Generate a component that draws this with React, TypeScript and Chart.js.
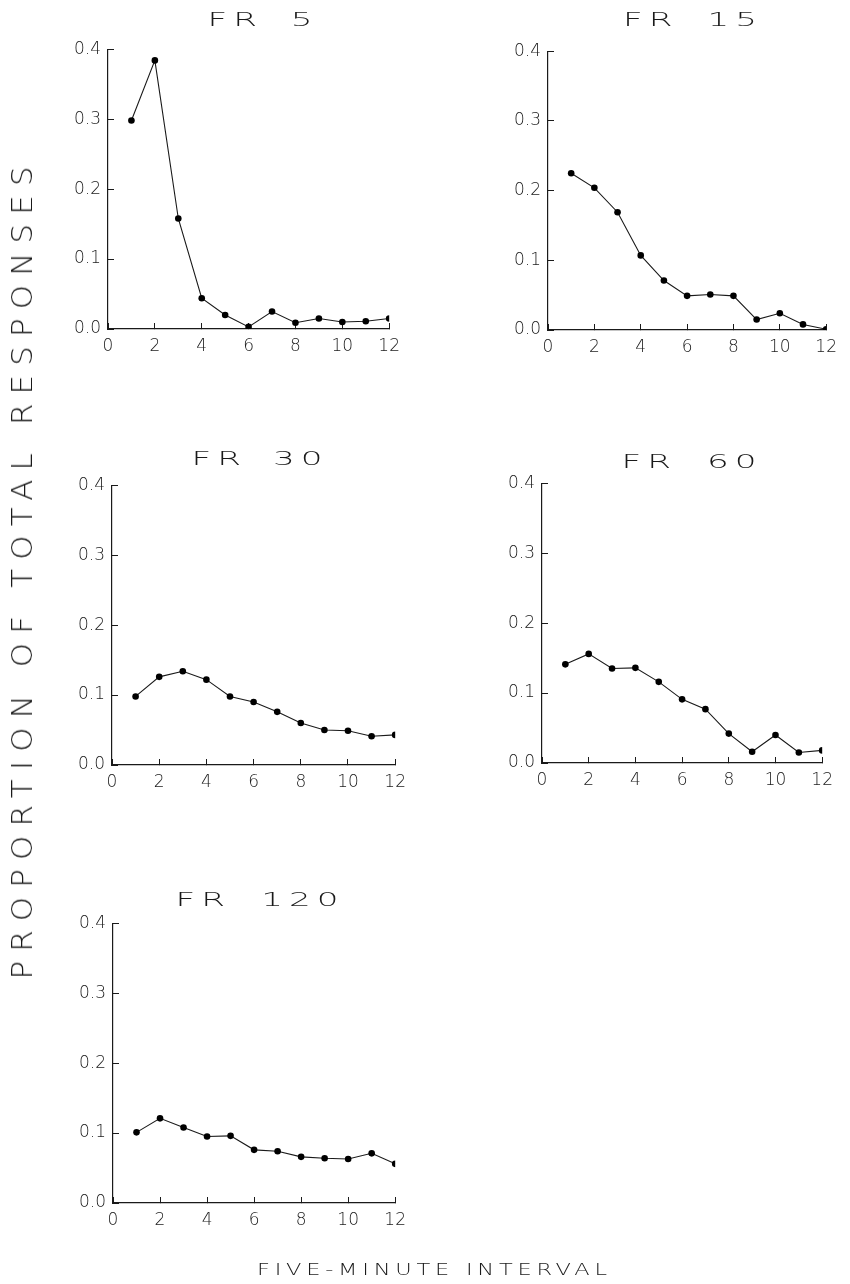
import React, { useEffect, useMemo, useRef } from "react";
import { Chart, registerables } from "chart.js";

Chart.register(...registerables);

// ---------- data ----------
const intervals = [1, 2, 3, 4, 5, 6, 7, 8, 9, 10, 11, 12];
const fr5Values = [0.298, 0.384, 0.158, 0.044, 0.02, 0.003, 0.025, 0.009, 0.015, 0.01, 0.011, 0.015];
const fr15Values = [0.225, 0.204, 0.169, 0.107, 0.071, 0.049, 0.051, 0.049, 0.015, 0.024, 0.008, 0.001];
const fr30Values = [0.098, 0.126, 0.134, 0.122, 0.098, 0.09, 0.076, 0.06, 0.05, 0.049, 0.041, 0.043];
const fr60Values = [0.141, 0.156, 0.135, 0.136, 0.116, 0.091, 0.077, 0.042, 0.016, 0.04, 0.015, 0.018];
const fr120Values = [0.101, 0.121, 0.108, 0.095, 0.096, 0.076, 0.074, 0.066, 0.064, 0.063, 0.071, 0.056];
const panelTitles = ["FR 5", "FR 15", "FR 30", "FR 60", "FR 120"];
const xTickMin = 0;
const xTickMax = 12;
const xTickStep = 2;
const yTickMin = 0;
const yTickMax = 0.4;
const yTickStep = 0.1;
const yAxisTitle = "PROPORTION OF TOTAL RESPONSES";
const xAxisTitle = "FIVE-MINUTE INTERVAL";

// ---------- layout (pixel boxes of each plot area) ----------
const panelBoxes = [
  { x0: 108, x1: 402, y0: 38, y1: 329, tx: 260, ty: 19, tw: 105 },
  { x0: 548, x1: 839, y0: 40, y1: 330, tx: 690, ty: 19, tw: 134 },
  { x0: 112, x1: 408, y0: 474, y1: 765, tx: 257, ty: 458, tw: 131 },
  { x0: 542, x1: 835, y0: 472, y1: 763, tx: 689, ty: 461, tw: 135 },
  { x0: 113, x1: 408, y0: 912, y1: 1203, tx: 257, ty: 899, tw: 163 },
];
const panelSeries = [fr5Values, fr15Values, fr30Values, fr60Values, fr120Values];

const FONT_FAMILY = "'DejaVu Sans', 'Liberation Sans', sans-serif";
const FONT_WEIGHT = "200";
const INK = "#1a1a1a";

const PAD_L = 50;
const PAD_T = 12;
const PAD_R = 11;
const PAD_B = 36;

function Panel({ values, box }: { values: number[]; box: any }) {
  const ref = useRef<HTMLCanvasElement | null>(null);
  const w = box.x1 - box.x0 + PAD_L + PAD_R;
  const h = box.y1 - box.y0 + PAD_T + PAD_B;

  useEffect(() => {
    if (!ref.current) return;
    const chart = new Chart(ref.current, {
      type: "line",
      data: {
        datasets: [
          {
            data: intervals.map((x, i) => ({ x, y: values[i] })),
            borderColor: INK,
            borderWidth: 1.1,
            pointRadius: 3.3,
            pointBackgroundColor: "#000",
            pointBorderWidth: 0,
            tension: 0,
            fill: false,
          },
        ],
      },
      options: {
        animation: false,
        responsive: false,
        devicePixelRatio: 1,
        layout: { padding: { left: 0, top: PAD_T, right: PAD_R, bottom: 0 } },
        plugins: { legend: { display: false }, tooltip: { enabled: false }, title: { display: false } },
        scales: {
          x: {
            type: "linear",
            min: xTickMin,
            max: xTickMax,
            afterFit: (s: any) => {
              s.height = PAD_B;
            },
            ticks: {
              stepSize: xTickStep,
              color: INK,
              padding: 13,
              font: { family: FONT_FAMILY, size: 17, weight: FONT_WEIGHT },
              maxRotation: 0,
            },
            grid: { display: true, drawOnChartArea: false, drawTicks: true, tickLength: -6, color: INK, lineWidth: 1 },
            border: { display: true, color: INK, width: 1.2 },
          },
          y: {
            type: "linear",
            min: yTickMin,
            max: yTickMax,
            afterFit: (s: any) => {
              s.width = PAD_L;
            },
            ticks: {
              stepSize: yTickStep,
              color: INK,
              padding: 13,
              font: { family: FONT_FAMILY, size: 17, weight: FONT_WEIGHT },
              callback: (v: any) => Number(v).toFixed(1),
            },
            grid: { display: true, drawOnChartArea: false, drawTicks: true, tickLength: -6, color: INK, lineWidth: 1 },
            border: { display: true, color: INK, width: 1.2 },
          },
        },
      },
    } as any);
    return () => chart.destroy();
  }, [values]);

  return (
    <canvas
      ref={ref}
      width={w}
      height={h}
      style={{ position: "absolute", left: box.x0 - PAD_L, top: box.y0 - PAD_T, width: w, height: h }}
    />
  );
}

// Text stretched to a target width. If letterGap is given (post-scale px), the
// remaining room goes to the word spaces; otherwise it is spread over all letters.
function SpacedText({
  text,
  cx,
  cy,
  width,
  size,
  scaleX,
  vertical,
  letterGap,
}: {
  text: string;
  cx: number;
  cy: number;
  width: number;
  size: number;
  scaleX: number;
  vertical?: boolean;
  letterGap?: number;
}) {
  const font = `${FONT_WEIGHT} ${size}px ${FONT_FAMILY}`;
  const sp = useMemo(() => {
    const c = document.createElement("canvas").getContext("2d");
    if (!c) return { ls: 0, ws: 0 };
    c.font = font;
    const natural = c.measureText(text).width;
    const n = text.length;
    const target = width / scaleX;
    if (letterGap !== undefined) {
      const ls = letterGap / scaleX;
      const spaces = text.split(" ").length - 1;
      const ws = spaces > 0 ? Math.max(0, (target - natural - (n - 1) * ls) / spaces) : 0;
      return { ls, ws };
    }
    return { ls: Math.max(0, (target - natural) / (n - 1)), ws: 0 };
  }, [text, width, size, scaleX, letterGap]);
  return (
    <div
      style={{
        position: "absolute",
        left: cx,
        top: cy,
        transform: `translate(-50%, -50%) ${vertical ? "rotate(-90deg)" : ""} scaleX(${scaleX})`,
        font,
        lineHeight: 1,
        letterSpacing: `${sp.ls}px`,
        wordSpacing: `${sp.ws}px`,
        paddingLeft: `${sp.ls}px`,
        whiteSpace: "pre",
        color: INK,
        willChange: "transform",
        WebkitFontSmoothing: "antialiased",
      }}
    >
      {text}
    </div>
  );
}

export default function App() {
  return (
    <div
      style={{
        position: "absolute",
        left: 0,
        top: 0,
        width: 850,
        height: 1284,
        background: "#fff",
        overflow: "hidden",
      }}
    >
      {panelSeries.map((vals, i) => (
        <Panel key={i} values={vals} box={panelBoxes[i]} />
      ))}
      {panelTitles.map((t, i) => (
        <SpacedText
          key={t}
          text={t}
          cx={panelBoxes[i].tx}
          cy={panelBoxes[i].ty}
          width={panelBoxes[i].tw}
          size={19}
          scaleX={1.8}
          letterGap={6}
        />
      ))}
      <SpacedText text={yAxisTitle} cx={23} cy={573} width={813} size={28} scaleX={1.1} vertical />
      <SpacedText text={xAxisTitle} cx={432} cy={1270} width={350} size={15} scaleX={1.5} />
    </div>
  );
}
